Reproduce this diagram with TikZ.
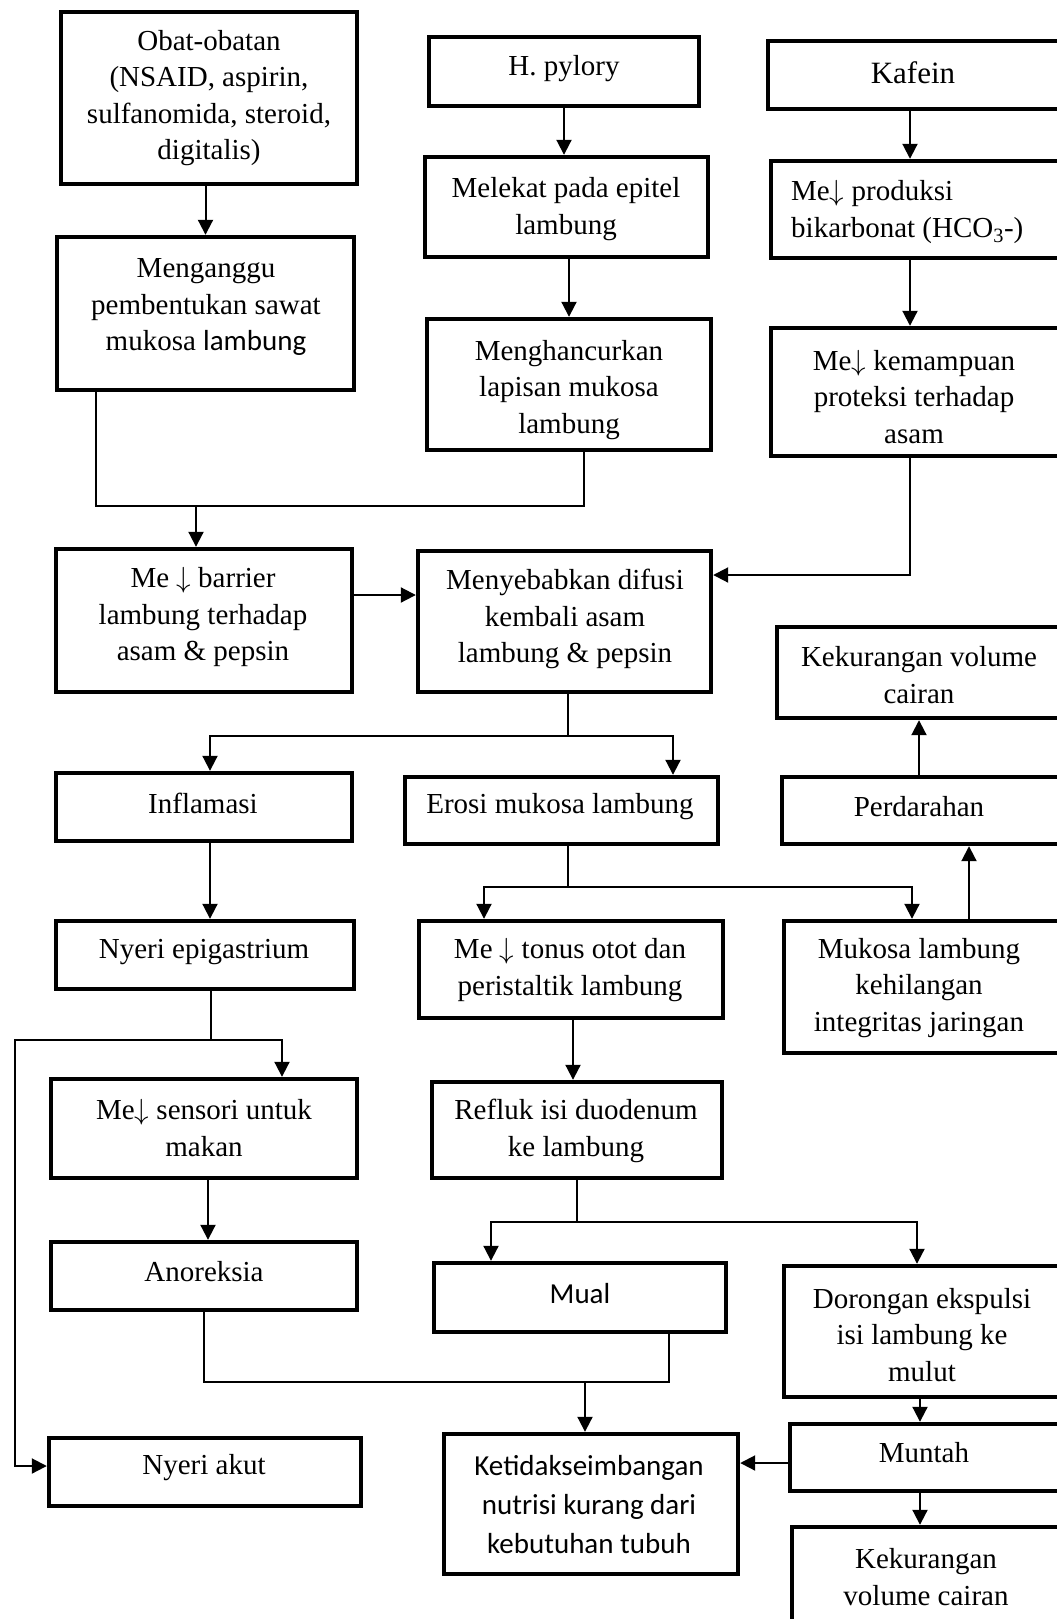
\documentclass[tikz,border=0pt]{standalone}
\usepackage{graphicx}
\usepackage{fontspec}
\setmainfont{Liberation Serif}
\newfontfamily\calib{Carlito}
\usetikzlibrary{arrows.meta}
\newcommand\mkbox[5]{\node[box, minimum width={#4pt-#2pt-4pt}, minimum height={#5pt-#3pt-4pt}] (#1) at ({(#2+#4)/2},{(#3+#5)/2}) {};}
\newcommand\dn{\scalebox{1.17}{$\downarrow$}}
\begin{document}
\begin{tikzpicture}[x=1pt,y=-1pt,
  box/.style={draw, line width=4.4pt, inner sep=0pt, fill=white},
  tx/.style={align=center, font=\fontsize{29}{36.5}\selectfont, inner sep=0pt},
  txc/.style={align=center, font=\calib\fontsize{29}{39}\selectfont, inner sep=0pt},
  ln/.style={line width=1.4pt},
  ar/.style={line width=2pt, -{Triangle[length=15pt,width=15pt]}}]
\useasboundingbox (0,0) rectangle (1057,1619);
\fill[white] (0,0) rectangle (1057,1619);
% boxes
\mkbox{obat}{59}{10}{359}{186}
\mkbox{hp}{427}{35}{701}{108}
\mkbox{kaf}{766}{39}{1090}{111}
\mkbox{mel}{423}{155}{710}{259}
\mkbox{prod}{769}{159}{1090}{260}
\mkbox{meng}{55}{235}{356}{392}
\mkbox{hanc}{425}{317}{713}{452}
\mkbox{kem}{769}{326}{1090}{458}
\mkbox{barrier}{54}{547}{354}{694}
\mkbox{menye}{416}{549}{713}{694}
\mkbox{kek1}{775}{625}{1090}{720}
\mkbox{infl}{54}{771}{354}{843}
\mkbox{eros}{403}{775}{720}{846}
\mkbox{perd}{780}{775}{1090}{846}
\mkbox{nyepi}{54}{919}{356}{991}
\mkbox{tonus}{417}{919}{725}{1020}
\mkbox{muk}{782}{919}{1090}{1055}
\mkbox{sens}{49}{1077}{359}{1180}
\mkbox{refl}{430}{1080}{724}{1180}
\mkbox{anor}{49}{1240}{359}{1312}
\mkbox{mual}{432}{1261}{728}{1334}
\mkbox{dor}{782}{1264}{1090}{1399}
\mkbox{nyakut}{47}{1436}{363}{1508}
\mkbox{ketid}{442}{1432}{740}{1576}
\mkbox{muntah}{788}{1422}{1090}{1493}
\mkbox{kek2}{790}{1525}{1090}{1660}
% texts
\node[tx] (t-obat) at (209,98) {Obat-obatan\\(NSAID, aspirin,\\sulfanomida, steroid,\\digitalis)};
\node[tx] (t-hp) at (564,69) {H. pylory};
\node[tx, font=\fontsize{31}{36}\selectfont] (t-kaf) at (913,73) {Kafein};
\node[tx] (t-mel) at (566,209) {Melekat pada epitel\\lambung};
\node[tx, align=left, anchor=west] (t-prod) at (791,212) {Me\dn\ produksi\\bikarbonat (HCO\textsubscript{3}-)};
\node[tx] (t-meng) at (206,307) {Menganggu\\pembentukan sawat\\mukosa {\calib lambung}};
\node[tx] (t-hanc) at (569,390) {Menghancurkan\\lapisan mukosa\\lambung};
\node[tx] (t-kem) at (914,397) {Me\dn\ kemampuan\\proteksi terhadap\\asam};
\node[tx] (t-barrier) at (203,617) {Me \dn\ barrier\\lambung terhadap\\asam \& pepsin};
\node[tx] (t-menye) at (565,619) {Menyebabkan difusi\\kembali asam\\lambung \& pepsin};
\node[tx] (t-kek1) at (919,675) {Kekurangan volume\\cairan};
\node[tx] (t-infl) at (203,803) {Inflamasi};
\node[tx] (t-eros) at (560,807) {Erosi mukosa lambung};
\node[tx] (t-perd) at (919,807) {Perdarahan};
\node[tx] (t-nyepi) at (204,952) {Nyeri epigastrium};
\node[tx] (t-tonus) at (570,970) {Me \dn\ tonus otot dan\\peristaltik lambung};
\node[tx] (t-muk) at (919,988) {Mukosa lambung\\kehilangan\\integritas jaringan};
\node[tx] (t-sens) at (204,1128) {Me\dn\ sensori untuk\\makan};
\node[tx] (t-refl) at (576,1131) {Refluk isi duodenum\\ke lambung};
\node[tx] (t-anor) at (204,1272) {Anoreksia};
\node[txc] (t-mual) at (580,1294) {Mual};
\node[tx] (t-dor) at (922,1335) {Dorongan ekspulsi\\isi lambung ke\\mulut};
\node[tx] (t-nyakut) at (204,1468) {Nyeri akut};
\node[txc] (t-ketid) at (589,1505) {Ketidakseimbangan\\nutrisi kurang dari\\kebutuhan tubuh};
\node[tx] (t-muntah) at (924,1453) {Muntah};
\node[tx] (t-kek2) at (926,1577) {Kekurangan\\volume cairan};
% connector coordinates
\coordinate (kx) at (910,0);
\coordinate (j1) at (96,506);
\coordinate (j2) at (584,506);
\coordinate (j3) at (196,506);
\coordinate (k575) at (910,575);
\coordinate (by) at (0,595);
\coordinate (s1) at (568,736);
\coordinate (s1l) at (210,736);
\coordinate (s1r) at (673,736);
\coordinate (px) at (919,0);
\coordinate (ix) at (210,0);
\coordinate (s2) at (568,887);
\coordinate (s2l) at (484,887);
\coordinate (s2r) at (912,887);
\coordinate (mx) at (969,0);
\coordinate (s3) at (211,1040);
\coordinate (s3l) at (15,1040);
\coordinate (s3r) at (282,1040);
\coordinate (ny) at (15,1466);
\coordinate (tx1) at (573,0);
\coordinate (sx) at (208,0);
\coordinate (s4) at (577,1222);
\coordinate (s4l) at (491,1222);
\coordinate (s4r) at (917,1222);
\coordinate (j4) at (204,1382);
\coordinate (j5) at (669,1382);
\coordinate (j6) at (585,1382);
\coordinate (dx) at (920,0);
\coordinate (my) at (0,1463);
% connectors
\draw[ar] (obat.south -| meng.north) -- (meng.north);
\draw[ar] (hp.south) -- (hp.south |- mel.north);
\draw[ar] (mel.south -| hanc.north) -- (hanc.north);
\draw[ar] (kaf.south -| kx) -- (prod.north -| kx);
\draw[ar] (prod.south -| kx) -- (kem.north -| kx);
\draw[ln] (meng.south -| j1) -- (j1) -- (j2) -- (hanc.south -| j2);
\draw[ar] (j3) -- (barrier.north -| j3);
\draw[ar] (kem.south -| kx) -- (k575) -- (k575 -| menye.east);
\draw[ar] (barrier.east |- by) -- (menye.west |- by);
\draw[ln] (menye.south -| s1) -- (s1);
\draw[ar] (s1) -- (s1l) -- (infl.north -| s1l);
\draw[ar] (s1) -- (s1r) -- (eros.north -| s1r);
\draw[ar] (perd.north -| px) -- (kek1.south -| px);
\draw[ar] (infl.south -| ix) -- (nyepi.north -| ix);
\draw[ln] (eros.south -| s2) -- (s2);
\draw[ar] (s2) -- (s2l) -- (tonus.north -| s2l);
\draw[ar] (s2) -- (s2r) -- (muk.north -| s2r);
\draw[ar] (muk.north -| mx) -- (perd.south -| mx);
\draw[ln] (nyepi.south -| s3) -- (s3);
\draw[ar] (s3) -- (s3r) -- (sens.north -| s3r);
\draw[ar] (s3) -- (s3l) -- (ny) -- (ny -| nyakut.west);
\draw[ar] (tonus.south -| tx1) -- (refl.north -| tx1);
\draw[ar] (sens.south -| sx) -- (anor.north -| sx);
\draw[ln] (refl.south -| s4) -- (s4);
\draw[ar] (s4) -- (s4l) -- (mual.north -| s4l);
\draw[ar] (s4) -- (s4r) -- (dor.north -| s4r);
\draw[ln] (anor.south -| j4) -- (j4) -- (j5) -- (mual.south -| j5);
\draw[ar] (j6) -- (ketid.north -| j6);
\draw[ar] (dor.south -| dx) -- (muntah.north -| dx);
\draw[ar] (muntah.west |- my) -- (ketid.east |- my);
\draw[ar] (muntah.south -| dx) -- (kek2.north -| dx);
\end{tikzpicture}
\end{document}
